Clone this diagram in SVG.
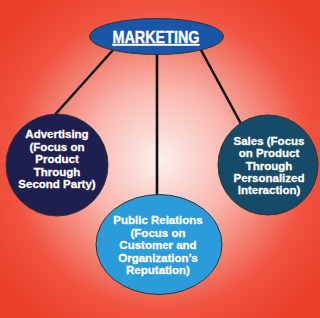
<svg xmlns="http://www.w3.org/2000/svg" width="320" height="318" viewBox="0 0 320 318">
<defs>
<radialGradient id="bg" cx="160" cy="160" r="200" gradientUnits="userSpaceOnUse">
<stop offset="0" stop-color="#fdf0ee"/>
<stop offset="0.35" stop-color="#f9b8b0"/>
<stop offset="0.75" stop-color="#f0533f"/>
<stop offset="1" stop-color="#ea3f2a"/>
</radialGradient>
<style>
.conn{stroke:#111;stroke-width:2.6;fill:none}
.node{stroke:#333;stroke-width:1}
.t{font-family:"Liberation Sans",Arial,sans-serif;font-weight:bold;font-size:11.5px;fill:#fff;stroke:#fff;stroke-width:0.3;text-anchor:middle}
.title{font-family:"Liberation Sans",Arial,sans-serif;font-weight:bold;font-size:17px;fill:#fff;stroke:#fff;stroke-width:0.4;text-anchor:middle;text-decoration:underline}
</style>
</defs>
<rect width="320" height="318" fill="url(#bg)"/>
<g id="connectors">
<line class="conn" x1="113" y1="50" x2="52" y2="118"/>
<line class="conn" x1="157" y1="54" x2="157" y2="196"/>
<line class="conn" x1="201" y1="50" x2="246" y2="133"/>
</g>
<g id="marketing">
<ellipse class="node" cx="156.5" cy="36.5" rx="67" ry="18" fill="#1a56a8"/>
<text class="title" x="156" y="43" textLength="87" lengthAdjust="spacingAndGlyphs">MARKETING</text>
</g>
<g id="advertising">
<circle class="node" cx="57" cy="165" r="51" fill="#1f1f4f"/>
<text class="t"><tspan x="57" y="138">Advertising</tspan><tspan x="57" y="150.5">(Focus on</tspan><tspan x="57" y="163">Product</tspan><tspan x="57" y="175.5">Through</tspan><tspan x="57" y="188">Second Party)</tspan></text>
</g>
<g id="sales">
<circle class="node" cx="268" cy="165" r="50" fill="#154a68"/>
<text class="t"><tspan x="269" y="145">Sales (Focus</tspan><tspan x="269" y="157">on Product</tspan><tspan x="269" y="169.5">Through</tspan><tspan x="269" y="182">Personalized</tspan><tspan x="269" y="194">Interaction)</tspan></text>
</g>
<g id="public-relations">
<ellipse class="node" cx="159" cy="244.5" rx="63" ry="50" fill="#2a9bdb"/>
<text class="t"><tspan x="158" y="224">Public Relations</tspan><tspan x="158" y="236.5">(Focus on</tspan><tspan x="158" y="249">Customer and</tspan><tspan x="158" y="261.5">Organization’s</tspan><tspan x="158" y="274">Reputation)</tspan></text>
</g>
</svg>
